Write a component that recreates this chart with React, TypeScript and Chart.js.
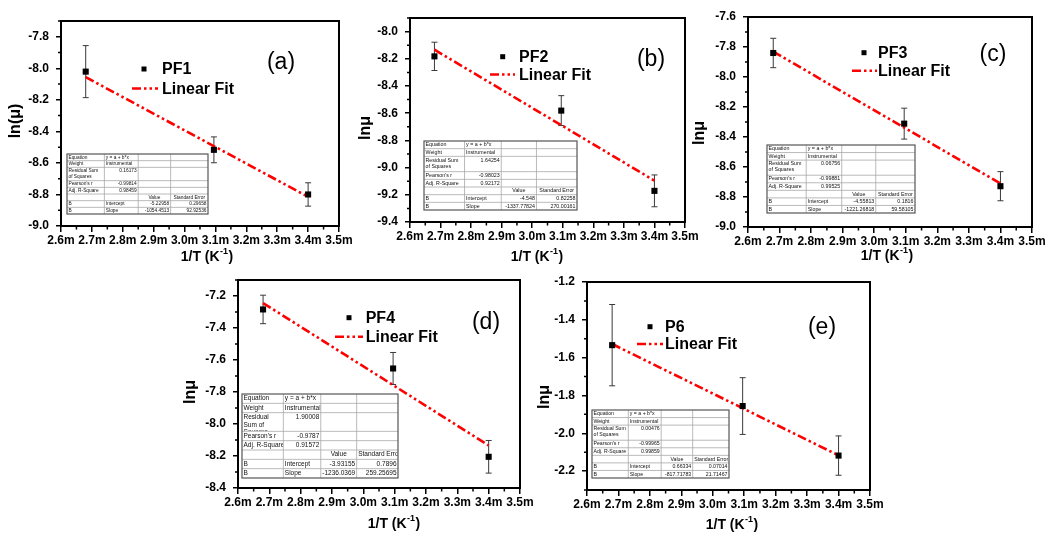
import React, { useEffect, useRef } from 'react';
import { Chart, registerables } from 'chart.js';

Chart.register(...registerables);

// ---------------- data ----------------
// 1/T values in mK^-1 (tick labels read "2.6m" ... "3.5m")
const xValues = [2.68, 3.095, 3.4];
const fitX = [2.68, 3.4];
const xTicks = [2.6, 2.7, 2.8, 2.9, 3.0, 3.1, 3.2, 3.3, 3.4, 3.5];

const pf1Y = [-8.021, -8.517, -8.8];
const pf1Err = [0.165, 0.082, 0.074];
const pf1Fit = [-8.056, -8.815];
const pf1YTicks = [-9.0, -8.8, -8.6, -8.4, -8.2, -8.0, -7.8];
const pf1Stats = ['0.16173', '-0.99814', '0.98459', '-5.22958', '0.29658', '-1054.4513', '92.92536'];

const pf2Y = [-8.182, -8.581, -9.171];
const pf2Err = [0.104, 0.11, 0.117];
const pf2Fit = [-8.133, -9.096];
const pf2YTicks = [-9.4, -9.2, -9.0, -8.8, -8.6, -8.4, -8.2, -8.0];
const pf2Stats = ['1.64254', '-0.98023', '0.92172', '-4.548', '0.82258', '-1337.77824', '270.00161'];

const pf3Y = [-7.84, -8.311, -8.728];
const pf3Err = [0.098, 0.103, 0.097];
const pf3Fit = [-7.831, -8.71];
const pf3YTicks = [-9.0, -8.8, -8.6, -8.4, -8.2, -8.0, -7.8, -7.6];
const pf3Stats = ['0.06756', '-0.99881', '0.99525', '-4.55813', '0.1816', '-1221.26818', '59.58105'];

const pf4Y = [-7.284, -7.653, -8.205];
const pf4Err = [0.089, 0.1, 0.102];
const pf4Fit = [-7.244, -8.134];
const pf4YTicks = [-8.4, -8.2, -8.0, -7.8, -7.6, -7.4, -7.2];
const pf4Stats = ['1.90008', '-0.9787', '0.91572', '-3.93155', '0.7896', '-1236.0369', '259.25695'];

const p6Y = [-1.534, -1.856, -2.118];
const p6Err = [0.215, 0.15, 0.104];
const p6Fit = [-1.528, -2.117];
const p6YTicks = [-2.2, -2.0, -1.8, -1.6, -1.4, -1.2];
const p6Stats = ['0.00476', '-0.99965', '0.99859', '0.66334', '0.07014', '-817.71783', '21.71467'];

// ---------------- layout (page coordinates) ----------------
const FF = "'Liberation Sans', Arial, Helvetica, sans-serif";

const panels = [
  {
    name: 'PF1', tag: '(a)', yTitle: 'ln(\u03bc)', y: pf1Y, err: pf1Err, fit: pf1Fit, yTicks: pf1YTicks, yMin: -9.0, yMax: -7.7, stats: pf1Stats,
    canvas: { x: 0, y: 0, w: 362, h: 270 }, plot: { l: 61, r: 339, t: 21, b: 226 },
    legend: { sx: 144, sy: 69, tx: 162, ly: 88.5, lx0: 132, lx1: 158 },
    tagPos: { x: 281, y: 63 }, yTitlePos: { x: 16, y: 121 }, xTitlePos: { x: 207, y: 257 },
    table: { x: 67, y: 154, w: 141, h: 60, fs: 4.8 },
  },
  {
    name: 'PF2', tag: '(b)', yTitle: 'ln\u03bc', y: pf2Y, err: pf2Err, fit: pf2Fit, yTicks: pf2YTicks, yMin: -9.4, yMax: -7.9, stats: pf2Stats,
    canvas: { x: 350, y: 0, w: 362, h: 270 }, plot: { l: 410, r: 685, t: 18, b: 222 },
    legend: { sx: 502.7, sy: 56.7, tx: 519, ly: 74.5, lx0: 490, lx1: 515 },
    tagPos: { x: 651, y: 60 }, yTitlePos: { x: 366, y: 128 }, xTitlePos: { x: 537, y: 257 },
    table: { x: 424, y: 141, w: 153, h: 69, fs: 5.3 },
  },
  {
    name: 'PF3', tag: '(c)', yTitle: 'ln\u03bc', y: pf3Y, err: pf3Err, fit: pf3Fit, yTicks: pf3YTicks, yMin: -9.0, yMax: -7.6, stats: pf3Stats,
    canvas: { x: 688, y: 0, w: 358, h: 270 }, plot: { l: 748, r: 1032, t: 17, b: 227 },
    legend: { sx: 864, sy: 52.7, tx: 878, ly: 70.7, lx0: 852, lx1: 877 },
    tagPos: { x: 993, y: 55 }, yTitlePos: { x: 700, y: 133 }, xTitlePos: { x: 887, y: 256 },
    table: { x: 767, y: 145, w: 148, h: 68, fs: 5.3 },
  },
  {
    name: 'PF4', tag: '(d)', yTitle: 'ln\u03bc', y: pf4Y, err: pf4Err, fit: pf4Fit, yTicks: pf4YTicks, yMin: -8.4, yMax: -7.1, stats: pf4Stats,
    canvas: { x: 178, y: 270, w: 362, h: 263 }, plot: { l: 238, r: 520, t: 280, b: 488 },
    legend: { sx: 349, sy: 317.7, tx: 365.7, ly: 336.7, lx0: 335, lx1: 363 },
    tagPos: { x: 486, y: 323 }, yTitlePos: { x: 191, y: 392 }, xTitlePos: { x: 394, y: 524 },
    table: { x: 242, y: 394, w: 156, h: 84, fs: 6.5 },
  },
  {
    name: 'P6', tag: '(e)', yTitle: 'ln\u03bc', y: p6Y, err: p6Err, fit: p6Fit, yTicks: p6YTicks, yMin: -2.3, yMax: -1.2, stats: p6Stats,
    canvas: { x: 530, y: 270, w: 362, h: 263 }, plot: { l: 587, r: 870, t: 282, b: 490 },
    legend: { sx: 650, sy: 326.7, tx: 665, ly: 344, lx0: 637, lx1: 663 },
    tagPos: { x: 822, y: 328 }, yTitlePos: { x: 545, y: 397 }, xTitlePos: { x: 732, y: 525 },
    table: { x: 592, y: 410, w: 137, h: 68, fs: 5.2 },
  },
];

const FIT_DASH = [9, 3, 2.5, 3, 2.5, 3];

function wrapText(ctx: CanvasRenderingContext2D, text: string, maxW: number): string[] {
  const words = text.split(' ');
  const lines: string[] = [];
  let cur = '';
  for (const w of words) {
    const t = cur ? cur + ' ' + w : w;
    if (ctx.measureText(t).width <= maxW || !cur) cur = t;
    else { lines.push(cur); cur = w; }
  }
  if (cur) lines.push(cur);
  return lines;
}

function drawTable(ctx: CanvasRenderingContext2D, p: any, ox: number, oy: number) {
  const t = p.table;
  const s = p.stats;
  const x = t.x - ox, y = t.y - oy, w = t.w, h = t.h;
  const fr = [0.265, 0.24, 0.23, 0.265];
  const colX = [x];
  fr.forEach((f) => colX.push(colX[colX.length - 1] + f * w));
  colX[4] = x + w;
  const units = [1, 1, 2, 1, 1, 1, 1, 1];
  const uh = h / 9;
  const rowY = [y];
  units.forEach((u) => rowY.push(rowY[rowY.length - 1] + u * uh));
  type Cell = [string, string, boolean?];
  const rows: Cell[][] = [
    [['Equation', 'l'], ['y = a + b*x', 'l'], ['', 'l'], ['', 'l']],
    [['Weight', 'l'], ['Instrumental', 'l'], ['', 'l'], ['', 'l']],
    [['Residual Sum of Squares', 'l', true], [s[0], 'r', true], ['', 'l'], ['', 'l']],
    [["Pearson's r", 'l'], [s[1], 'r'], ['', 'l'], ['', 'l']],
    [['Adj. R-Square', 'l'], [s[2], 'r'], ['', 'l'], ['', 'l']],
    [['', 'l'], ['', 'l'], ['Value', 'c'], ['Standard Error', 'c']],
    [['B', 'l'], ['Intercept', 'l'], [s[3], 'r'], [s[4], 'r']],
    [['B', 'l'], ['Slope', 'l'], [s[5], 'r'], [s[6], 'r']],
  ];
  ctx.save();
  ctx.fillStyle = '#ffffff';
  ctx.fillRect(x, y, w, h);
  // inner grid
  ctx.strokeStyle = '#a8a8a8';
  ctx.lineWidth = 0.8;
  ctx.beginPath();
  for (let i = 1; i < rowY.length - 1; i++) {
    ctx.moveTo(x, rowY[i]); ctx.lineTo(x + w, rowY[i]);
  }
  for (let j = 1; j < 4; j++) {
    ctx.moveTo(colX[j], y); ctx.lineTo(colX[j], y + h);
  }
  ctx.stroke();
  // text
  ctx.font = `${t.fs}px ${FF}`;
  ctx.fillStyle = '#111';
  const pad = 1.5;
  rows.forEach((row, ri) => {
    row.forEach((cell, ci) => {
      const [text, align, top] = cell;
      if (!text) return;
      const cx0 = colX[ci], cx1 = colX[ci + 1];
      const cy0 = rowY[ri], cy1 = rowY[ri + 1];
      ctx.save();
      ctx.beginPath();
      ctx.rect(cx0 + 0.5, cy0 + 0.5, cx1 - cx0 - 1, cy1 - cy0 - 1);
      ctx.clip();
      const maxW = cx1 - cx0 - 2 * pad;
      const lines = top && align === 'l' ? wrapText(ctx, text, maxW) : [text];
      const lh = t.fs * 1.15;
      lines.forEach((ln, li) => {
        let tx = cx0 + pad;
        let al: CanvasTextAlign = 'left';
        const tw = ctx.measureText(ln).width;
        if (align === 'r') { tx = cx1 - pad; al = 'right'; }
        if (align === 'c' && tw < maxW) { tx = (cx0 + cx1) / 2; al = 'center'; }
        ctx.textAlign = al;
        ctx.textBaseline = 'middle';
        const ty = top ? cy0 + uh / 2 + li * lh : (cy0 + cy1) / 2;
        ctx.fillText(ln, tx, ty);
      });
      ctx.restore();
    });
  });
  // outer border
  ctx.strokeStyle = '#555';
  ctx.lineWidth = 1.2;
  ctx.strokeRect(x, y, w, h);
  ctx.restore();
}

function makeDecor(p: any) {
  const ox = p.canvas.x, oy = p.canvas.y;
  return {
    id: 'decor' + p.name,
    beforeDatasetsDraw(chart: any) {
      const ctx = chart.ctx as CanvasRenderingContext2D;
      const xs = chart.scales.x, ys = chart.scales.y;
      ctx.save();
      ctx.strokeStyle = '#3a3a3a';
      ctx.lineWidth = 1;
      xValues.forEach((xv, i) => {
        const px = xs.getPixelForValue(xv);
        const top = ys.getPixelForValue(p.y[i] + p.err[i]);
        const bot = ys.getPixelForValue(p.y[i] - p.err[i]);
        ctx.beginPath();
        ctx.moveTo(px, top); ctx.lineTo(px, bot);
        ctx.moveTo(px - 3, top); ctx.lineTo(px + 3, top);
        ctx.moveTo(px - 3, bot); ctx.lineTo(px + 3, bot);
        ctx.stroke();
      });
      ctx.restore();
    },
    afterDraw(chart: any) {
      const ctx = chart.ctx as CanvasRenderingContext2D;
      const xs = chart.scales.x, ys = chart.scales.y;
      const a = chart.chartArea;
      ctx.save();
      // top and right frame
      ctx.strokeStyle = '#000';
      ctx.lineWidth = 2;
      ctx.beginPath();
      ctx.moveTo(a.left - 1, a.top);
      ctx.lineTo(a.right, a.top);
      ctx.lineTo(a.right, a.bottom + 1);
      ctx.stroke();
      // minor ticks
      ctx.lineWidth = 1.5;
      ctx.beginPath();
      const xStep = xTicks[1] - xTicks[0];
      for (let k = -1; k < xTicks.length; k++) {
        const v = xTicks[0] + (k + 0.5) * xStep;
        if (v < xTicks[0] - 1e-9 || v > xTicks[xTicks.length - 1] + 1e-9) continue;
        const px = xs.getPixelForValue(v);
        ctx.moveTo(px, a.bottom); ctx.lineTo(px, a.bottom + 3.5);
      }
      const yt = p.yTicks;
      const yStep = yt[1] - yt[0];
      for (let k = -1; k < yt.length; k++) {
        const v = yt[0] + (k + 0.5) * yStep;
        if (v < p.yMin - 1e-9 || v > p.yMax + 1e-9) continue;
        const py = ys.getPixelForValue(v);
        ctx.moveTo(a.left, py); ctx.lineTo(a.left - 3, py);
      }
      ctx.stroke();

      // legend
      const L = p.legend;
      const ds0 = chart.data.datasets[0];
      const ds1 = chart.data.datasets[1];
      ctx.fillStyle = '#000';
      ctx.fillRect(L.sx - ox - 2.5, L.sy - oy - 2.5, 5, 5);
      ctx.font = `bold 16px ${FF}`;
      ctx.textAlign = 'left';
      ctx.textBaseline = 'middle';
      ctx.fillText(ds0.label, L.tx - ox, L.sy - oy + 1);
      ctx.fillText(ds1.label, L.tx - ox, L.ly - oy + 1);
      ctx.strokeStyle = '#ff0000';
      ctx.lineWidth = 2.6;
      ctx.setLineDash(FIT_DASH);
      ctx.beginPath();
      ctx.moveTo(L.lx0 - ox, L.ly - oy);
      ctx.lineTo(L.lx1 - ox, L.ly - oy);
      ctx.stroke();
      ctx.setLineDash([]);

      // panel tag
      ctx.fillStyle = '#000';
      ctx.font = `23px ${FF}`;
      ctx.textAlign = 'center';
      ctx.fillText(p.tag, p.tagPos.x - ox, p.tagPos.y - oy);

      // y title
      ctx.save();
      ctx.translate(p.yTitlePos.x - ox, p.yTitlePos.y - oy);
      ctx.rotate(-Math.PI / 2);
      ctx.font = `bold 16px ${FF}`;
      ctx.textAlign = 'center';
      ctx.textBaseline = 'middle';
      ctx.fillText(p.yTitle, 0, 0);
      ctx.restore();

      // x title with superscript
      const f1 = `bold 14px ${FF}`, f2 = `bold 9px ${FF}`;
      const s1 = '1/T (K', s2 = '-1', s3 = ')';
      ctx.font = f1;
      const w1 = ctx.measureText(s1).width, w3 = ctx.measureText(s3).width;
      ctx.font = f2;
      const w2 = ctx.measureText(s2).width;
      let cx = p.xTitlePos.x - ox - (w1 + w2 + w3 + 1) / 2;
      const cy = p.xTitlePos.y - oy;
      ctx.textAlign = 'left';
      ctx.textBaseline = 'middle';
      ctx.font = f1;
      ctx.fillText(s1, cx, cy);
      cx += w1 + 0.5;
      ctx.font = f2;
      ctx.fillText(s2, cx, cy - 5);
      cx += w2 + 0.5;
      ctx.font = f1;
      ctx.fillText(s3, cx, cy);

      // statistics table
      drawTable(ctx, p, ox, oy);
      ctx.restore();
    },
  };
}

function buildConfig(p: any): any {
  const ox = p.canvas.x, oy = p.canvas.y;
  const W = p.canvas.w, H = p.canvas.h;
  const tickFont = { family: FF, size: 12, weight: 'bold' as const };
  return {
    type: 'scatter',
    data: {
      datasets: [
        {
          label: p.name,
          data: xValues.map((x, i) => ({ x, y: p.y[i] })),
          pointStyle: 'rect',
          pointRadius: 4.3,
          pointHoverRadius: 4.3,
          backgroundColor: '#000',
          borderColor: '#000',
          borderWidth: 0,
          order: 0,
        },
        {
          label: 'Linear Fit',
          data: fitX.map((x, i) => ({ x, y: p.fit[i] })),
          showLine: true,
          borderColor: '#ff0000',
          backgroundColor: '#ff0000',
          borderWidth: 2.6,
          borderDash: FIT_DASH,
          pointRadius: 0,
          fill: false,
          order: 1,
        },
      ],
    },
    options: {
      animation: false,
      responsive: false,
      devicePixelRatio: 1,
      events: [],
      layout: { padding: { left: 0, top: p.plot.t - oy, right: ox + W - p.plot.r, bottom: 0 } },
      plugins: { legend: { display: false }, tooltip: { enabled: false }, title: { display: false } },
      scales: {
        x: {
          type: 'linear',
          min: xTicks[0],
          max: xTicks[xTicks.length - 1],
          afterBuildTicks: (s: any) => { s.ticks = xTicks.map((v) => ({ value: v })); },
          afterFit: (s: any) => { s.height = oy + H - p.plot.b; s.paddingLeft = 0; s.paddingRight = 0; },
          ticks: {
            callback: (v: any) => Number(v).toFixed(1) + 'm',
            font: tickFont, color: '#000', padding: 1, maxRotation: 0, minRotation: 0, autoSkip: false,
          },
          grid: { display: true, drawOnChartArea: false, drawTicks: true, tickLength: 6, color: '#000', lineWidth: 1.5 },
          border: { display: true, color: '#000', width: 2 },
          title: { display: false },
        },
        y: {
          type: 'linear',
          min: p.yMin,
          max: p.yMax,
          afterBuildTicks: (s: any) => { s.ticks = p.yTicks.map((v: number) => ({ value: v })); },
          afterFit: (s: any) => { s.width = p.plot.l - ox; s.paddingTop = 0; s.paddingBottom = 0; },
          ticks: {
            callback: (v: any) => Number(v).toFixed(1),
            font: tickFont, color: '#000', padding: 7, autoSkip: false,
          },
          grid: { display: true, drawOnChartArea: false, drawTicks: true, tickLength: 5, color: '#000', lineWidth: 1.5 },
          border: { display: true, color: '#000', width: 2 },
          title: { display: false },
        },
      },
    },
    plugins: [makeDecor(p)],
  };
}

function Panel({ p }: { p: any }) {
  const ref = useRef<HTMLCanvasElement>(null);
  useEffect(() => {
    if (!ref.current) return;
    const chart = new Chart(ref.current, buildConfig(p));
    return () => chart.destroy();
  }, [p]);
  return (
    <canvas
      ref={ref}
      width={p.canvas.w}
      height={p.canvas.h}
      style={{ position: 'absolute', left: p.canvas.x, top: p.canvas.y, width: p.canvas.w, height: p.canvas.h }}
    />
  );
}

export default function App() {
  return (
    <div style={{ position: 'absolute', left: 0, top: 0, width: 1046, height: 533, background: '#fff', overflow: 'hidden' }}>
      {panels.map((p) => (
        <Panel key={p.name} p={p} />
      ))}
    </div>
  );
}
